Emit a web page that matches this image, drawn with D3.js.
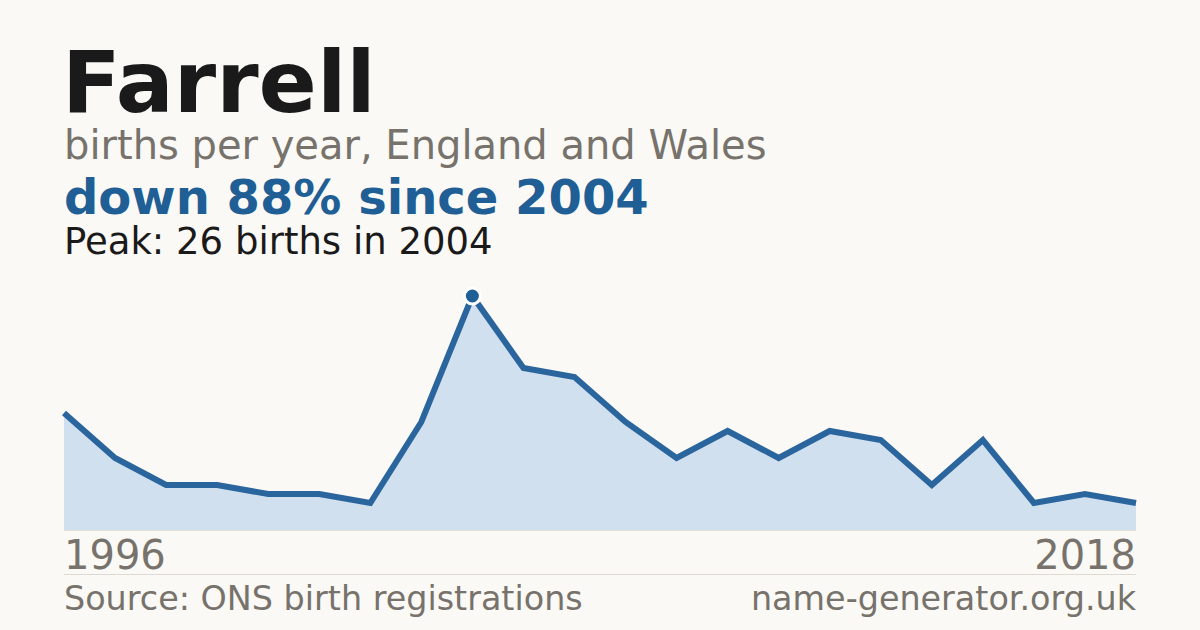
<!DOCTYPE html>
<html>
<head>
<meta charset="utf-8">
<script src="https://cdn.jsdelivr.net/npm/d3@7"></script>
<style>
  html, body { margin: 0; padding: 0; background: #faf9f5; }
  svg { display: block; font-family: "DejaVu Sans", sans-serif; }
</style>
</head>
<body>
<script>
// births per year
const births = [13, 8, 5, 5, 4, 4, 3, 12, 26, 18, 17, 12, 8, 11, 8, 11, 10, 5, 10, 3, 4, 3];
const firstYear = "1996";
const lastYear = "2018";
const peakIndex = 8;

const width = 1200, height = 630;
const left = 64, right = 1136;
const chartTop = 296, chartBottom = 530;

const svg = d3.select("body").append("svg")
    .attr("width", width)
    .attr("height", height);

svg.append("rect").attr("width", width).attr("height", height).attr("fill", "#faf9f5");

const x = d3.scaleLinear().domain([0, births.length - 1]).range([left, right]);
const y = d3.scaleLinear().domain([0, d3.max(births)]).range([chartBottom, chartTop]);

// headings
svg.append("text").attr("x", 62).attr("y", 112)
    .attr("font-size", 86).attr("font-weight", "bold").attr("fill", "#1a1a1a")
    .text("Farrell");
svg.append("text").attr("x", 64).attr("y", 159)
    .attr("font-size", 40).attr("fill", "#77726b")
    .text("births per year, England and Wales");
svg.append("text").attr("x", 64).attr("y", 214)
    .attr("font-size", 48).attr("font-weight", "bold").attr("fill", "#1f5f96")
    .text("down 88% since 2004");
svg.append("text").attr("x", 64).attr("y", 254)
    .attr("font-size", 37).attr("fill", "#1a1a1a")
    .text("Peak: 26 births in 2004");

// area + line
const area = d3.area()
    .x((d, i) => x(i))
    .y0(y(0))
    .y1(d => y(d));
const line = d3.line()
    .x((d, i) => x(i))
    .y(d => y(d));

svg.append("path").datum(births)
    .attr("d", area)
    .attr("fill", "#d0e0ef");

svg.append("line")
    .attr("x1", left).attr("x2", right)
    .attr("y1", chartBottom + 0.5).attr("y2", chartBottom + 0.5)
    .attr("stroke", "#e4ded6").attr("stroke-width", 1);

svg.append("path").datum(births)
    .attr("d", line)
    .attr("fill", "none")
    .attr("stroke", "#2a669d")
    .attr("stroke-width", 6)
    .attr("stroke-linejoin", "miter");

svg.append("circle")
    .attr("cx", x(peakIndex)).attr("cy", y(births[peakIndex]))
    .attr("r", 8)
    .attr("fill", "#1f5f96")
    .attr("stroke", "#ffffff").attr("stroke-width", 3);

// year labels
svg.append("text").attr("x", left).attr("y", 569)
    .attr("font-size", 40).attr("fill", "#77726b")
    .text(firstYear);
svg.append("text").attr("x", right).attr("y", 569)
    .attr("font-size", 40).attr("fill", "#77726b").attr("text-anchor", "end")
    .text(lastYear);

svg.append("line")
    .attr("x1", left).attr("x2", right)
    .attr("y1", 574.5).attr("y2", 574.5)
    .attr("stroke", "#dedad3").attr("stroke-width", 1);

// footer
svg.append("text").attr("x", 64).attr("y", 610)
    .attr("font-size", 33.4).attr("fill", "#77726b")
    .text("Source: ONS birth registrations");
svg.append("text").attr("x", right).attr("y", 610)
    .attr("font-size", 33.4).attr("fill", "#77726b").attr("text-anchor", "end")
    .text("name-generator.org.uk");
</script>
</body>
</html>
